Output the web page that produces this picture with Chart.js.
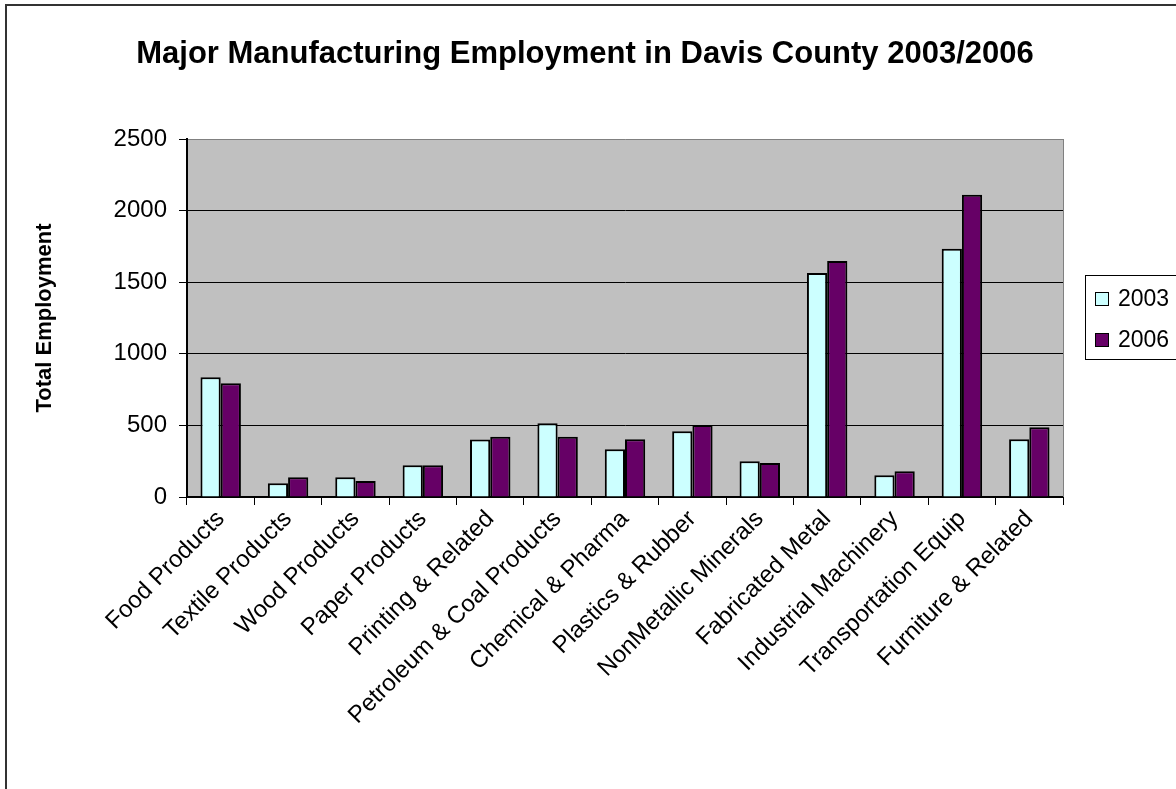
<!DOCTYPE html>
<html>
<head>
<meta charset="utf-8">
<title>Major Manufacturing Employment in Davis County 2003/2006</title>
<script src="https://cdn.jsdelivr.net/npm/chart.js@4/dist/chart.umd.min.js"></script>
<style>
  html, body { margin: 0; padding: 0; background: #fff; overflow: hidden; }
  #wrap { position: absolute; left: 0; top: 0; width: 1200px; height: 800px; }
</style>
</head>
<body>
<div id="wrap"><canvas id="empChart"></canvas></div>
<script>
// employment by industry, 2003 vs 2006
var industries = ['Food Products', 'Textile Products', 'Wood Products', 'Paper Products',
    'Printing & Related', 'Petroleum & Coal Products', 'Chemical & Pharma', 'Plastics & Rubber',
    'NonMetallic Minerals', 'Fabricated Metal', 'Industrial Machinery', 'Transportation Equip',
    'Furniture & Related'];
var years = ['2003', '2006'];
var emp2003 = [837, 96, 138, 221, 401, 515, 333, 459, 249, 1564, 152, 1734, 403];
var emp2006 = [795, 138, 112, 221, 420, 420, 403, 503, 238, 1648, 180, 2110, 487];
var yTicks = [0, 500, 1000, 1500, 2000, 2500];

var colors = ['#ccffff', '#660066'];
var FONT = '"Liberation Sans", Arial, sans-serif';

//! frame, plot background, title and boxed legend
var excelLook = {
    id: 'excelLook',
    beforeDraw: function (chart) {
        var ctx = chart.ctx, a = chart.chartArea;
        ctx.save();
        ctx.fillStyle = '#fff';
        ctx.fillRect(0, 0, chart.width, chart.height);
        ctx.strokeStyle = '#333';
        ctx.lineWidth = 2;
        ctx.strokeRect(6, 5, chart.width, chart.height);
        ctx.fillStyle = '#c0c0c0';
        ctx.fillRect(a.left, a.top, a.right - a.left, a.bottom - a.top);
        ctx.restore();
    },
    afterDraw: function (chart) {
        var ctx = chart.ctx, a = chart.chartArea;
        ctx.save();
        // right edge of plot
        ctx.strokeStyle = '#808080';
        ctx.lineWidth = 1;
        ctx.beginPath();
        ctx.moveTo(a.right + 0.5, a.top);
        ctx.lineTo(a.right + 0.5, a.bottom);
        ctx.stroke();

        // title
        ctx.fillStyle = '#000';
        ctx.font = 'bold 31px ' + FONT;
        ctx.textAlign = 'center';
        ctx.textBaseline = 'alphabetic';
        ctx.fillText('Major Manufacturing Employment in Davis County 2003/2006', 585, 63);

        // legend
        var lx = 1085, ly = 275;
        ctx.strokeStyle = '#000';
        ctx.lineWidth = 1;
        ctx.strokeRect(lx + 0.5, ly + 0.5, 120, 84);
        ctx.font = '23px ' + FONT;
        ctx.textAlign = 'left';
        ctx.textBaseline = 'middle';
        chart.data.datasets.forEach(function (ds, i) {
            var cy = ly + 24 + i * 41;
            ctx.fillStyle = ds.backgroundColor;
            ctx.fillRect(lx + 10, cy - 7, 14, 14);
            ctx.strokeRect(lx + 10.5, cy - 6.5, 13, 13);
            ctx.fillStyle = '#000';
            ctx.fillText(ds.label, lx + 33, cy + 1);
        });
        ctx.restore();
    }
};

var ctx = document.getElementById('empChart').getContext('2d');
var empChart = new Chart(ctx, {
    type: 'bar',
    data: {
        labels: industries,
        datasets: [
            { label: years[0], data: emp2003, backgroundColor: colors[0] },
            { label: years[1], data: emp2006, backgroundColor: colors[1] }
        ]
    },
    options: {
        responsive: true,
        maintainAspectRatio: false,
        animation: false,
        layout: { padding: { left: 20, right: 137, top: 139, bottom: 0 } },
        datasets: {
            bar: {
                borderColor: '#000',
                borderWidth: 2,
                categoryPercentage: 0.6,
                barPercentage: 1.0
            }
        },
        scales: {
            x: {
                grid: {
                    offset: true,
                    drawOnChartArea: false,
                    tickLength: 8,
                    color: '#000'
                },
                border: { color: '#000', width: 2 },
                ticks: {
                    color: '#000',
                    font: { family: FONT, size: 24 },
                    minRotation: 45,
                    maxRotation: 45,
                    autoSkip: false,
                    padding: 0
                },
                afterFit: function (scale) { scale.height = 303; }
            },
            y: {
                min: 0,
                max: 2500,
                afterBuildTicks: function (scale) {
                    scale.ticks = yTicks.map(function (v) { return { value: v }; });
                },
                grid: {
                    color: function (c) { return c.tick && c.tick.value === 2500 ? '#808080' : '#000'; },
                    tickColor: '#000',
                    tickLength: 8
                },
                border: { color: '#000', width: 2 },
                ticks: {
                    color: '#000',
                    font: { family: FONT, size: 24 },
                    padding: 12,
                    callback: function (v) { return String(v); }
                },
                title: {
                    display: true,
                    text: 'Total Employment',
                    color: '#000',
                    font: { family: FONT, size: 22, weight: 'bold' },
                    padding: { top: 12, bottom: 0 }
                },
                afterFit: function (scale) { scale.width = 167; }
            }
        },
        plugins: {
            legend: { display: false },
            title: { display: false },
            tooltip: { enabled: false }
        }
    },
    plugins: [excelLook]
});
</script>
</body>
</html>
